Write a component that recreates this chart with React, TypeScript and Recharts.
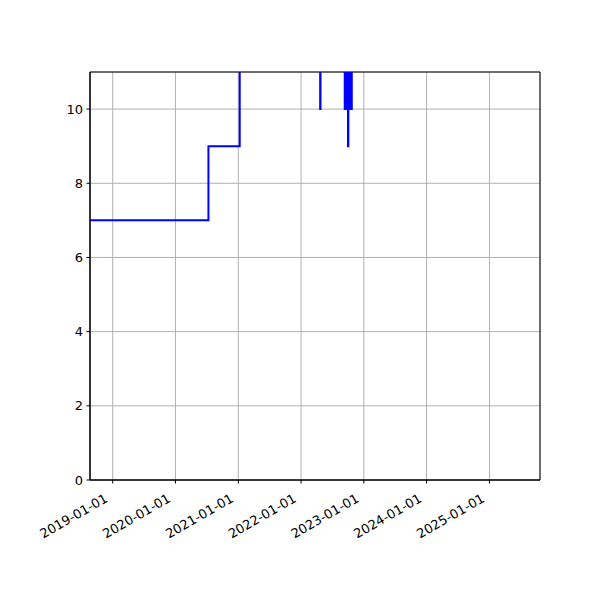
import React from 'react';
import { LineChart, Line, XAxis, YAxis, CartesianGrid, ReferenceArea } from 'recharts';

// change dates and the value that holds from that date on (steps-post)
const DATES = [
  '2018-08-22', '2020-07-11', '2021-01-09',
  '2022-04-22', '2022-04-24',
  '2022-09-12', '2022-09-14', '2022-09-16', '2022-09-19', '2022-09-21', '2022-09-24',
  '2022-09-26', '2022-09-29', '2022-10-01', '2022-10-03', '2022-10-05', '2022-10-08',
  '2022-10-10', '2022-10-13', '2022-10-15', '2022-10-18', '2022-10-20', '2022-10-23',
  '2025-10-01',
];
const VALUES = [
  7, 9, 12,
  10, 12,
  10, 12, 10, 12, 10, 12,
  10, 12, 9, 12, 10, 12,
  10, 12, 10, 12, 10, 12,
  12,
];
const X_TICKS = ['2019-01-01', '2020-01-01', '2021-01-01', '2022-01-01', '2023-01-01', '2024-01-01', '2025-01-01'];
const Y_TICKS = [0, 2, 4, 6, 8, 10];
const X_DOMAIN = ['2018-08-22', '2025-10-22'];
const Y_DOMAIN = [0, 11];

const data = DATES.map((d, i) => ({ t: Date.parse(d), v: VALUES[i] }));
const xDomain = X_DOMAIN.map(d => Date.parse(d));
const font = 'DejaVu Sans, sans-serif';

const fmt = (t: number) => new Date(t).toISOString().slice(0, 10);

// matplotlib autofmt_xdate: rotated 30deg, right aligned under the tick
const DateTick = (props: any) => {
  const { x, y, payload } = props;
  return (
    <text
      transform={`translate(${x - 4} ${y + 14}) rotate(-30)`}
      textAnchor="end"
      fontSize={13}
      fontFamily={font}
      fill="#000"
    >
      {fmt(payload.value)}
    </text>
  );
};

export default function App() {
  return (
    <div style={{ position: 'absolute', left: 0, top: 0, width: 600, height: 600, background: '#fff' }}>
      <LineChart width={600} height={600} data={data} margin={{ top: 72, right: 60, left: 50, bottom: 60 }}>
        <CartesianGrid stroke="#b0b0b0" strokeWidth={1} />
        <XAxis
          dataKey="t"
          type="number"
          scale="time"
          domain={xDomain}
          ticks={X_TICKS.map(d => Date.parse(d))}
          tick={<DateTick />}
          height={60}
          interval={0}
          allowDataOverflow
          stroke="#000"
          tickSize={3.5}
          tickMargin={3.5}
        />
        <YAxis
          type="number"
          domain={Y_DOMAIN}
          ticks={Y_TICKS}
          allowDataOverflow
          width={40}
          stroke="#000"
          tickSize={3.5}
          tickMargin={3.5}
          tick={{ fontSize: 13, fontFamily: font, fill: '#000' }}
        />
        <Line
          type="stepAfter"
          dataKey="v"
          stroke="#0000ff"
          strokeWidth={2}
          dot={false}
          isAnimationActive={false}
        />
        <ReferenceArea
          x1={xDomain[0]}
          x2={xDomain[1]}
          y1={Y_DOMAIN[0]}
          y2={Y_DOMAIN[1]}
          fill="none"
          fillOpacity={0}
          stroke="#000"
          strokeWidth={1}
        />
      </LineChart>
    </div>
  );
}
